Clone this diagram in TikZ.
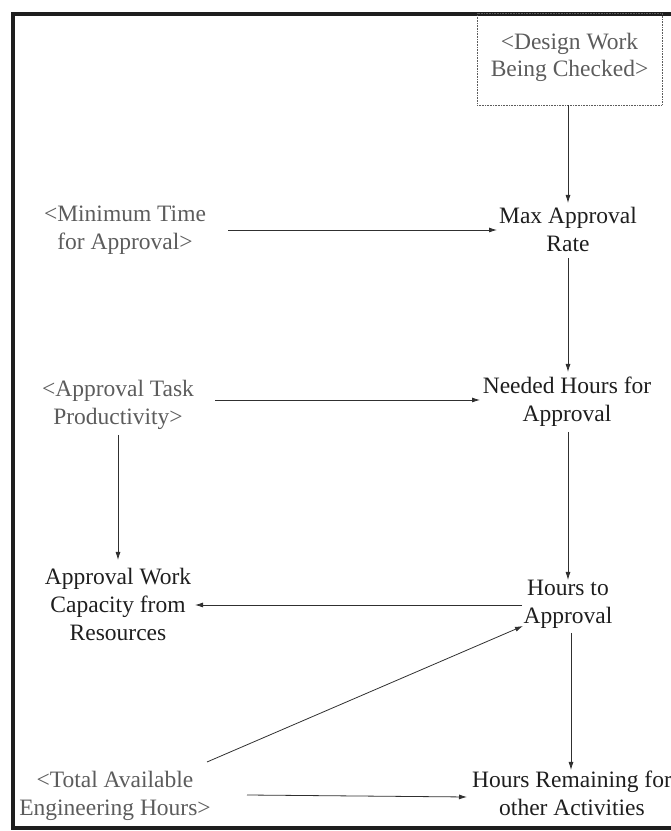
\documentclass[tikz,border=0pt]{standalone}
\usepackage{fontspec}
\setmainfont{Liberation Serif}
\usetikzlibrary{arrows.meta,calc}
\definecolor{shadowtext}{HTML}{5C5C5C}
\definecolor{plaintext}{HTML}{1E1E1E}
\definecolor{linkcol}{HTML}{303030}
\tikzset{
  var/.style={align=center, inner sep=0pt, text=plaintext,
    font=\fontsize{23.5}{28}\selectfont,
    execute at begin node=\strut, execute at end node=\strut},
  shadowvar/.style={var, text=shadowtext},
  link/.style={draw=linkcol, line width=0.8pt, -{Latex[length=8pt,width=5pt]}},
  frame/.style={draw=plaintext, line width=4pt}
}
\begin{document}
\begin{tikzpicture}[x=1pt,y=1pt]
\useasboundingbox (0,0) rectangle (671,831);
% outer frame (open on the right)
\draw[frame] (671,817) -- (13,817) -- (13,3) -- (671,3);

% variables
\node[shadowvar, font=\fontsize{23.5}{26.5}\selectfont,
      draw=shadowtext, densely dotted, line width=0.6pt,
      minimum width=185pt, minimum height=92pt] (design) at (569.5,772)
      {<Design Work\\Being Checked>};
\node[var] (maxrate) at (568,597.5) {Max Approval\\Rate};
\node[shadowvar] (mintime) at (125,599) {<Minimum Time\\for Approval>};
\node[var] (needed) at (567,427.5) {Needed Hours for\\Approval};
\node[shadowvar] (prod) at (118,424) {<Approval Task\\Productivity>};
\node[var] (capacity) at (118,222) {Approval Work\\Capacity from\\Resources};
\node[var] (hta) at (568,225) {Hours to\\Approval};
\node[shadowvar] (total) at (115,33) {<Total Available\\Engineering Hours>};
\node[var] (remaining) at (572,33.5) {Hours Remaining for\\other Activities};

% causal links
\draw[link] ([xshift=-1.5pt]design.south) -- ($(maxrate)+(0,30.5)$);
\draw[link] ($(mintime)+(103,2)$) -- ($(maxrate)+(-71,3.5)$);
\draw[link] ($(maxrate)+(0,-25)$) -- ($(needed)+(1,31.5)$);
\draw[link] ($(prod)+(97,7)$) -- ($(needed)+(-87,3.5)$);
\draw[link] ($(prod)+(0,-28)$) -- ($(capacity)+(0,49)$);
\draw[link] ($(needed)+(1,-28.5)$) -- ($(hta)+(0,26)$);
\draw[link] ($(hta)+(-46,1)$) -- ($(capacity)+(77,4)$);
\draw[link] ($(total)+(92,36)$) -- ($(hta)+(-45,-20)$);
\draw[link] ($(total)+(132,3)$) -- ($(remaining)+(-105,0.5)$);
\draw[link] ($(hta)+(3,-27)$) -- ($(remaining)+(-1,27.5)$);
\end{tikzpicture}
\end{document}
